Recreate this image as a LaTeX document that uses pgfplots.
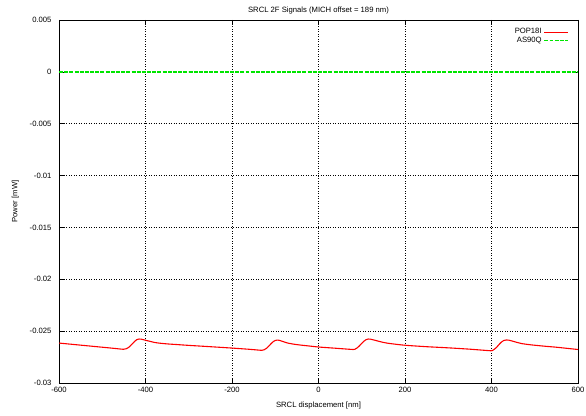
\documentclass[border=0pt]{standalone}
\usepackage{pgfplots}
\pgfplotsset{compat=1.18}
\usepackage{fontspec}
\setmainfont{Liberation Sans}

% POP18I demodulated signal vs. SRCL displacement
\pgfplotstableread{
x y
-600 -0.02615
-575 -0.02625
-550 -0.02635
-525 -0.02645
-500 -0.02655
-475 -0.02665
-451 -0.02675
-445 -0.02670
-440 -0.02660
-435 -0.02642
-430 -0.02620
-425 -0.02598
-420 -0.02582
-415 -0.02576
-410 -0.02577
-405 -0.02582
-398 -0.02590
-390 -0.02598
-378 -0.02610
-365 -0.02617
-350 -0.02623
-325 -0.02630
-301 -0.02637
-250 -0.02650
-201 -0.02663
-160 -0.02675
-131 -0.02685
-126 -0.02680
-120 -0.02665
-115 -0.02645
-110 -0.02622
-105 -0.02602
-100 -0.02590
-95 -0.02586
-90 -0.02589
-85 -0.02596
-78 -0.02606
-70 -0.02616
-55 -0.02627
-40 -0.02635
-20 -0.02644
0 -0.02653
40 -0.02665
80 -0.02677
85 -0.02672
90 -0.02660
95 -0.02640
100 -0.02617
105 -0.02597
110 -0.02582
115 -0.02576
120 -0.02577
125 -0.02582
135 -0.02593
146 -0.02605
158 -0.02615
170 -0.02622
200 -0.02636
250 -0.02650
300 -0.02661
350 -0.02674
398 -0.02689
403 -0.02684
408 -0.02670
413 -0.02650
418 -0.02626
423 -0.02605
428 -0.02591
434 -0.02585
440 -0.02587
445 -0.02592
455 -0.02604
470 -0.02620
485 -0.02629
500 -0.02636
525 -0.02646
550 -0.02655
575 -0.02666
600 -0.02677
}\popeighteen

\definecolor{gpgreen}{rgb}{0,0.9,0}

\begin{document}
\begin{tikzpicture}
\path[use as bounding box] (-59bp,-33bp) rectangle (527bp,383bp);
\begin{axis}[
  at={(0,0)}, anchor=south west,
  scale only axis,
  width=519bp, height=363bp,
  xmin=-600, xmax=600, ymin=-0.03, ymax=0.005,
  scaled y ticks=false, scaled x ticks=false,
  xtick={-600,-400,...,600},
  ytick={-0.03,-0.025,-0.02,-0.015,-0.01,-0.005,0.005},
  yticklabels={-0.03,-0.025,-0.02,-0.015,-0.01,-0.005,0.005},
  extra y ticks={0},
  extra y tick labels={0},
  extra y tick style={grid=none},
  xticklabels={-600,-400,-200,0,200,400,600},
  grid=major,
  grid style={black, line width=0.5pt, dotted},
  axis line style={black, line width=0.9pt},
  tick align=inside,
  major tick length=5bp,
  tick style={black, line width=0.6pt},
  font=\fontsize{7.7}{9}\selectfont,
  /pgf/number format/assume math mode=true,
  xticklabel style={yshift=-1bp},
  yticklabel style={xshift=-4bp},
  title={SRCL 2F Signals (MICH offset = 189 nm)},
  title style={yshift=-4bp},
  xlabel={SRCL displacement [nm]},
  ylabel={Power [mW]},
  xlabel style={yshift=-2bp},
  ylabel style={yshift=4bp},
  legend style={draw=none, fill=none, at={(0.985,0.985)}, anchor=north east,
    font=\fontsize{7.7}{8.5}\selectfont, row sep=-2.5bp, inner sep=1bp},
  legend cell align=right,
  legend plot pos=right,
  legend image code/.code={\draw[#1] (0bp,0bp) -- (24bp,0bp);},
]
\addplot[red, line width=1.1pt, smooth, tension=0.4] table[x=x,y=y] {\popeighteen};
\addlegendentry{POP18I}
% AS90Q demodulated signal, flat at zero
\addplot[color=gpgreen, line width=1.4pt, dash pattern=on 4pt off 1.2pt]
  coordinates {(-600,0) (-300,0) (0,0) (300,0) (600,0)};
\addlegendentry{AS90Q}
\end{axis}
\end{tikzpicture}
\end{document}
